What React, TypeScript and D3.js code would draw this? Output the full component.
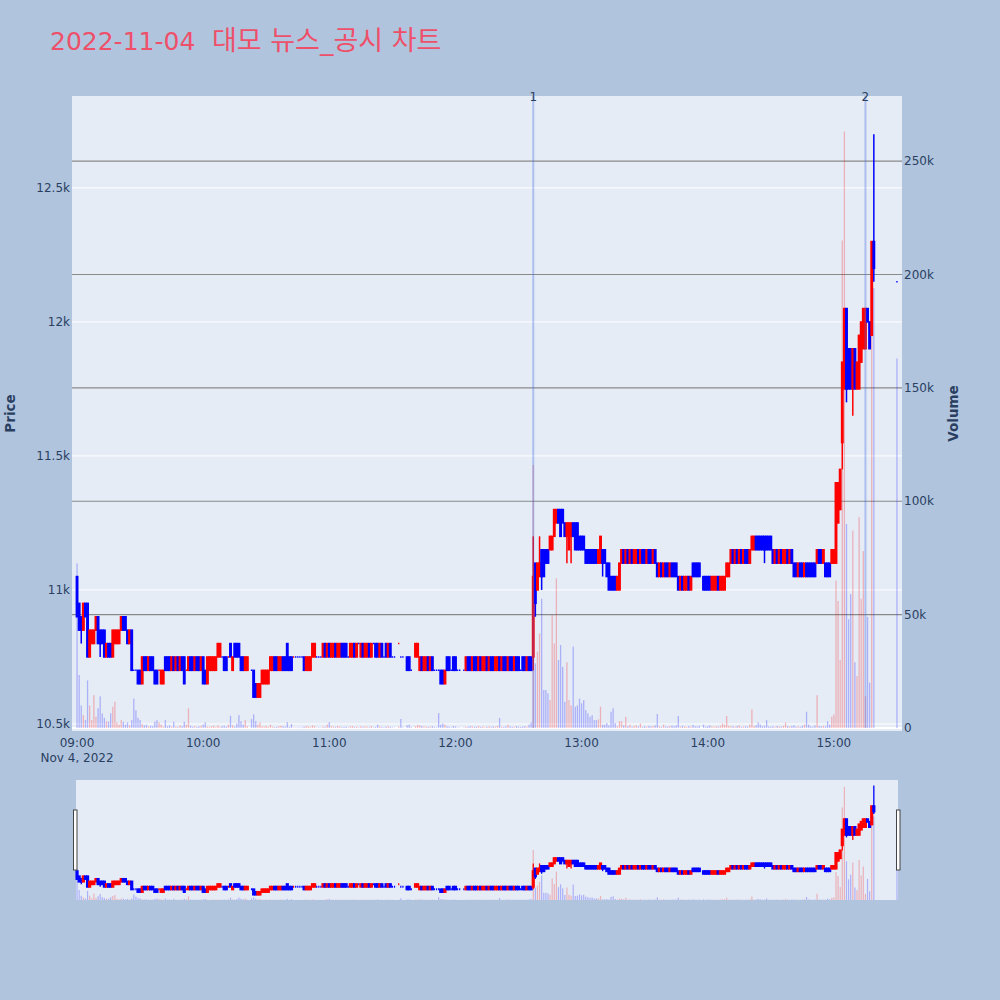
import React from "react";
import * as d3 from "d3";

const TITLE_DATE = "2022-11-04";
const TITLE_REST = "대모 뉴스_공시 차트";
const DAY = "2022-11-04";
const SESSION_START = "09:00";

// one candle per minute from 09:00 (index = minutes after open), null = no trade
const opens: (number | null)[] = [
  11050,10950,10900,10850,10950,10950,10750,10800,10800,10850,
  10900,10850,10850,10850,10750,10800,10800,10750,10800,10800,
  10800,10850,10900,10900,10850,10800,10850,10700,10700,10700,
  10700,10650,10750,10750,10700,10750,10750,10700,10700,10700,
  10650,10650,10750,10750,10750,10700,10750,10700,10750,10700,
  10750,10750,10700,10700,10750,10750,10700,10750,10750,10700,
  10750,10700,10650,10700,10700,10700,10700,10750,10750,10750,
  10750,10750,10750,10800,10700,10800,10800,10800,10750,10750,
  10700,10700,null,10700,10700,10650,10600,10600,10650,10650,
  10650,10650,10700,10700,10750,10750,10700,10700,10750,10750,
  10800,10750,10750,10750,10750,10750,10750,10750,10750,10700,
  10700,10700,10750,10750,10750,10750,10750,10750,10800,10750,
  10800,10750,10750,10800,10750,10750,10800,10800,10800,10750,
  10750,10750,10800,10750,10800,10750,10800,10750,10750,10800,
  10750,10800,10800,10800,10750,10800,10750,10800,10750,10800,
  10750,10750,null,10800,10750,10750,null,10750,10750,10700,
  null,10750,10750,10700,10750,10700,10700,10750,10700,10750,
  10700,10700,10700,10700,10700,10650,10750,10750,10700,10750,
  10750,10700,10700,null,10700,10700,10750,10750,10700,10750,
  10750,10700,10750,10700,10700,10750,10700,10750,10750,10700,
  10700,10750,10700,10750,10750,10700,10750,10750,10700,10750,
  10750,10700,10750,10750,10700,10750,10750,10750,11100,11000,
  11050,11150,11150,11150,11150,11150,11150,11200,11250,11300,
  11300,11300,11250,11200,11150,11200,11250,11250,11250,11200,
  11200,11200,11150,11150,11150,11150,11150,11150,11100,11100,
  11150,11150,11100,11100,11050,11050,11050,11000,11000,11100,
  11150,11100,11150,11100,11150,11100,11100,11150,11100,11150,
  11150,11100,11150,11150,11100,11150,11100,11050,11100,11050,
  11100,11100,11050,11100,11100,11100,11050,11000,11050,11000,
  11000,11050,11000,11100,11100,11100,11100,null,11050,11050,
  11050,11050,11000,11000,11000,11050,11000,11000,11000,11050,
  11050,11100,11150,11100,11150,11100,11150,11100,11150,11150,
  11100,11150,11150,11200,11200,11200,11200,11200,11200,11200,
  11200,11150,11100,11150,11100,11150,11100,11100,11150,11100,
  11150,11100,11100,11050,11100,11100,11050,11100,11100,11100,
  11100,11100,11100,11150,11150,11100,11100,11100,11100,11100,
  11100,11100,11250,11300,11550,11750,12050,11900,11900,11750,
  11900,11750,11750,11850,11900,11900,12050,12000,11950,12300,
  null,null,null,null,null,null,null,null,null,null,
  12150,
];

const closes: (number | null)[] = [
  10900,10850,10850,10950,10900,10750,10850,10850,10850,10900,
  10800,10800,10800,10750,10800,10750,10750,10850,10850,10850,
  10850,10900,10850,10850,10800,10850,10700,10700,10700,10650,
  10650,10750,10700,10700,10750,10700,10700,10650,10650,10700,
  10700,10700,10700,10700,10700,10750,10700,10750,10700,10750,
  10700,10650,10700,10750,10700,10700,10750,10700,10700,10750,
  10650,10650,10750,10750,10750,10750,10750,10800,10800,10750,
  10700,10700,10750,10750,10750,10750,10750,10750,10700,10700,
  10750,10750,null,10700,10600,10600,10650,10650,10700,10700,
  10700,10700,10750,10750,10700,10700,10750,10750,10700,10700,
  10700,10700,10700,10750,10750,10750,10750,10750,10700,10750,
  10750,10750,10800,10800,10750,10750,10750,10800,10750,10800,
  10750,10800,10800,10750,10800,10800,10750,10750,10750,10750,
  10800,10800,10750,10800,10800,10800,10750,10800,10800,10750,
  10800,10800,10750,10750,10800,10750,10750,10750,10800,10750,
  10750,10750,null,10800,10750,10750,null,10700,10700,10700,
  null,10800,10800,10750,10700,10750,10750,10700,10750,10700,
  10700,10700,10700,10650,10650,10700,10700,10700,10700,10700,
  10700,10700,10700,null,10700,10750,10700,10700,10750,10700,
  10700,10750,10700,10750,10750,10700,10750,10700,10700,10750,
  10750,10700,10750,10700,10700,10750,10700,10700,10750,10700,
  10700,10700,10700,10700,10750,10700,10700,11050,10950,11100,
  11100,11050,11050,11100,11100,11200,11200,11300,11300,11250,
  11200,11250,11200,11250,11250,11250,11200,11150,11150,11150,
  11150,11150,11100,11100,11100,11100,11100,11100,11150,11200,
  11100,11100,11050,11000,11000,11000,11000,11050,11100,11150,
  11100,11150,11100,11150,11100,11150,11150,11100,11150,11100,
  11100,11150,11100,11100,11150,11100,11050,11100,11050,11100,
  11050,11050,11100,11050,11050,11050,11000,11050,11000,11050,
  11050,11000,11050,11050,11050,11050,11050,null,11000,11000,
  11000,11000,11050,11050,11050,11000,11050,11050,11050,11100,
  11100,11150,11100,11150,11100,11150,11100,11150,11100,11100,
  11150,11200,11200,11150,11150,11150,11150,11150,11150,11150,
  11150,11100,11150,11100,11150,11100,11150,11150,11100,11150,
  11100,11050,11050,11100,11050,11050,11100,11050,11050,11050,
  11050,11050,11150,11100,11100,11150,11050,11050,11050,11150,
  11150,11400,11400,11450,11850,12050,11750,11750,11750,11900,
  11750,11850,11950,12000,12050,12050,12000,11900,12300,12200,
  null,null,null,null,null,null,null,null,null,null,
  12150,
];

// wick extremes beyond the candle body, by minute index
const highWicks: Record<number, number> = { 217: 11200, 220: 11200, 379: 12700 };
const lowWicks: Record<number, number> = {
  2: 10800, 11: 10750, 217: 10700, 218: 10900, 221: 11000, 233: 11100, 235: 11100,
  250: 11050, 327: 11100, 364: 11450, 366: 11700, 369: 11650, 379: 12150,
};

const volumes: number[] = [
  72600,23400,10000,5700,3500,21000,10000,3500,14500,5000,
  8700,14000,6500,4500,3000,2800,6500,9400,11600,2500,
  1500,3500,2800,1500,2500,1200,3500,13000,7800,4500,
  3500,1800,1200,1500,800,1000,800,2800,3500,2500,
  1500,600,3500,800,1200,600,2800,600,500,1200,
  800,2800,1500,8700,1000,600,800,500,700,1000,
  1500,2500,600,500,800,1000,400,1200,500,800,
  1000,600,1500,5400,1200,600,2000,5700,3000,1500,
  3500,800,0,4000,6000,3000,1500,2500,800,600,
  1000,500,1500,600,400,500,800,1000,800,600,
  2600,500,1800,300,200,300,200,300,600,900,
  700,500,1200,800,200,300,200,600,500,1500,
  2600,800,600,500,900,700,400,500,600,300,
  700,900,500,600,300,800,500,700,600,400,
  900,300,500,1500,700,500,300,600,800,500,
  300,200,0,600,4000,300,0,1200,1500,400,
  0,800,1400,1200,900,600,700,500,600,800,
  400,300,6600,1500,2000,1500,800,600,300,900,
  700,300,200,0,300,600,500,800,700,500,
  600,900,500,700,400,600,800,500,700,600,
  900,4400,600,500,800,1500,700,600,500,900,
  600,500,700,800,600,1500,2500,116000,28500,33700,
  41700,57000,16800,16800,15300,12300,49800,37300,66000,30000,
  36600,27000,11600,29000,12300,10000,35900,9400,10000,13000,
  10900,12300,7900,6500,5000,5700,3500,3500,3800,9400,
  1500,1500,2200,1200,7200,8700,2200,800,3000,3000,
  1200,5000,800,1500,600,900,1200,700,2000,500,
  800,600,1000,700,900,1200,6200,800,500,1500,
  700,600,900,1100,800,1200,5300,600,1000,700,
  500,900,600,1400,800,700,1000,0,1500,600,
  900,1200,700,500,800,600,1000,2000,1500,5300,
  1000,700,800,600,900,1200,500,700,800,600,
  1500,8200,900,1200,2500,1500,800,1000,3500,700,
  600,800,500,900,700,600,1000,2500,800,700,
  900,1200,600,800,500,1000,1500,7200,1500,800,
  600,1200,14500,900,700,1000,800,3000,1500,5000,
  6000,65000,56000,30000,215000,263000,90000,48000,59000,87000,
  29000,23000,93000,57000,78000,14000,49000,20000,209000,194000,
  0,0,0,0,0,0,0,0,0,0,
  163000,
];

const newsTimes = ["12:37", "15:15"];
const newsLabels = ["1", "2"];
const priceTicks = [10500, 11000, 11500, 12000, 12500];
const priceTickLabels = ["10.5k", "11k", "11.5k", "12k", "12.5k"];
const volumeTicks = [0, 50000, 100000, 150000, 200000, 250000];
const volumeTickLabels = ["0", "50k", "100k", "150k", "200k", "250k"];
const timeTicks = ["09:00", "10:00", "11:00", "12:00", "13:00", "14:00", "15:00"];
const dateLabel = "Nov 4, 2022";

const FONT = "'DejaVu Sans', 'Noto Sans CJK KR', sans-serif";
const TXT = "#2a3f5f";
const UP = "#ff0000";
const DOWN = "#0000ff";

type Candle = { i: number; t: Date; o: number; c: number; h: number; l: number; v: number; inc: boolean };

function buildCandles(t0: number): Candle[] {
  const out: Candle[] = [];
  let prev: number | null = null;
  opens.forEach((o, i) => {
    const c = closes[i];
    if (o == null || c == null) return;
    const h = Math.max(o, c, highWicks[i] ?? -Infinity);
    const l = Math.min(o, c, lowWicks[i] ?? Infinity);
    const inc = c > o || (c === o && prev != null && c > prev);
    out.push({ i, t: new Date(t0 + i * 60000), o, c, h, l, v: volumes[i], inc });
    prev = c;
  });
  return out;
}

export default function App() {
  const parse = d3.timeParse("%Y-%m-%d %H:%M")!;
  const t0 = parse(`${DAY} ${SESSION_START}`)!.getTime();
  const candles = buildCandles(t0);

  const P = { l: 72, r: 902, t: 96, b: 731 };
  const S = { l: 76, r: 898, t: 780, b: 900 };

  const x = d3.scaleTime().domain([new Date(t0 - 2.4 * 60000), new Date(t0 + 392.4 * 60000)]).range([P.l, P.r]);
  const yP = d3.scaleLinear().domain([10470, 12843]).range([P.b + 1, P.t]);
  const yV = d3.scaleLinear().domain([-1300, 278700]).range([P.b, P.t]);

  const xs = d3.scaleTime().domain([new Date(t0 - 0.5 * 60000), new Date(t0 + 390.5 * 60000)]).range([S.l, S.r]);
  const yPs = d3.scaleLinear().domain([10495, 12805]).range([S.b, S.t]);
  const yVs = d3.scaleLinear().domain([0, 279000]).range([S.b, S.t]);

  const bodyPath = (cx: number, y1: number, y2: number, w: number) =>
    `M${cx - w},${y1}H${cx + w}V${y2}H${cx - w}Z`;

  return (
    <svg width={1000} height={1000} style={{ position: "absolute", left: 0, top: 0, fontFamily: FONT }}>
      <rect x={0} y={0} width={1000} height={1000} fill="#b0c4de" />
      <text x={50} y={50} fontSize={25} fill="#ee506a">
        <tspan>{TITLE_DATE} </tspan>
        <tspan x={212} fontSize={27}>{TITLE_REST}</tspan>
      </text>

      <rect x={P.l} y={P.t} width={P.r - P.l} height={P.b - P.t} fill="#e5ecf6" />
      {priceTicks.map((v) => (
        <line key={"pg" + v} x1={P.l} x2={P.r} y1={yP(v)} y2={yP(v)} stroke="#ffffff" strokeWidth={1} />
      ))}
      {volumeTicks.map((v) =>
        v === 0 ? (
          <line key={"vg" + v} x1={P.l} x2={P.r} y1={yV(v)} y2={yV(v)} stroke="#ffffff" strokeWidth={2} />
        ) : (
          <line key={"vg" + v} x1={P.l} x2={P.r} y1={yV(v)} y2={yV(v)} stroke="#8a8a8a" strokeWidth={1.2} />
        )
      )}

      {candles.filter((c) => c.v > 0).map((c) => (
        <rect key={"v" + c.i} x={x(c.t) - 0.65} width={1.3} y={yV(c.v)} height={yV(0) - yV(c.v)}
          fill={c.inc ? UP : DOWN} fillOpacity={0.25} />
      ))}

      {candles.map((c) => {
        const cx = x(c.t);
        const col = c.inc ? UP : DOWN;
        return (
          <g key={"c" + c.i}>
            <line x1={cx} x2={cx} y1={yP(c.h)} y2={yP(c.l)} stroke={col} strokeWidth={1.5} />
            <path d={bodyPath(cx, yP(c.o), yP(c.c), 0.7)} fill={col} stroke={col} strokeWidth={1.5} />
          </g>
        );
      })}

      {newsTimes.map((s, k) => {
        const nx = x(parse(`${DAY} ${s}`)!);
        return (
          <g key={"n" + k}>
            <line x1={nx} x2={nx} y1={P.t} y2={yV(0)} stroke="rgb(65,105,225)" strokeOpacity={0.35} strokeWidth={2} />
            <text x={nx} y={101} fontSize={12} fill={TXT} textAnchor="middle">{newsLabels[k]}</text>
          </g>
        );
      })}

      {priceTicks.map((v, k) => (
        <text key={"pl" + v} x={70} y={yP(v)} dy="0.35em" fontSize={12} fill={TXT} textAnchor="end">{priceTickLabels[k]}</text>
      ))}
      {volumeTicks.map((v, k) => (
        <text key={"vl" + v} x={904} y={yV(v)} dy="0.35em" fontSize={12} fill={TXT} textAnchor="start">{volumeTickLabels[k]}</text>
      ))}
      {timeTicks.map((s) => (
        <text key={"t" + s} x={x(parse(`${DAY} ${s}`)!)} y={747} fontSize={12} fill={TXT} textAnchor="middle">{s}</text>
      ))}
      <text x={x(new Date(t0))} y={762} fontSize={12} fill={TXT} textAnchor="middle">{dateLabel}</text>

      <text transform={`translate(15,${(P.t + P.b) / 2}) rotate(-90)`} fontSize={13.5} fontWeight="bold" fill={TXT} textAnchor="middle">Price</text>
      <text transform={`translate(958,${(P.t + P.b) / 2}) rotate(-90)`} fontSize={13.5} fontWeight="bold" fill={TXT} textAnchor="middle">Volume</text>

      {/* range slider */}
      <rect x={S.l} y={S.t} width={S.r - S.l} height={S.b - S.t} fill="#e5ecf6" />
      {candles.filter((c) => c.v > 0).map((c) => (
        <rect key={"sv" + c.i} x={xs(c.t) - 0.6} width={1.2} y={yVs(c.v)} height={yVs(0) - yVs(c.v)}
          fill={c.inc ? UP : DOWN} fillOpacity={0.25} />
      ))}
      {candles.map((c) => {
        const cx = xs(c.t);
        const col = c.inc ? UP : DOWN;
        return (
          <g key={"sc" + c.i}>
            <line x1={cx} x2={cx} y1={yPs(c.h)} y2={yPs(c.l)} stroke={col} strokeWidth={1.3} />
            <path d={bodyPath(cx, yPs(c.o), yPs(c.c), 0.6)} fill={col} stroke={col} strokeWidth={2} />
          </g>
        );
      })}
      <rect x={73.5} y={810} width={3.5} height={60} fill="#ffffff" stroke="#444" strokeWidth={1} />
      <rect x={896.5} y={810} width={3.5} height={60} fill="#ffffff" stroke="#444" strokeWidth={1} />
    </svg>
  );
}
